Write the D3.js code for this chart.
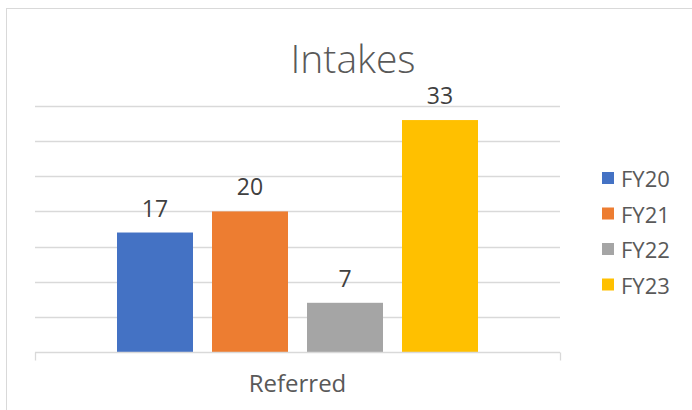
<!DOCTYPE html>
<html><head><meta charset="utf-8">
<script src="https://cdn.jsdelivr.net/npm/d3@7"></script>
<style>body{margin:0;background:#fff;}svg{display:block;font-family:"Open Sans",Lato,sans-serif;}</style>
</head><body><svg id="c" width="692" height="410"></svg>
<script>
const categories = ["Referred"];
const seriesNames = ["FY20","FY21","FY22","FY23"];
const seriesValues = [17,20,7,33];
const colors = ["#4472C4","#ED7D31","#A5A5A5","#FFC000"];
const yTicks = [0,5,10,15,20,25,30,35];

(function(){
const svg = d3.select("#c");
svg.append("rect").attr("x",6.5).attr("y",8.5).attr("width",700).attr("height",420)
  .attr("fill","#fff").attr("stroke","#d9d9d9");

const pL=35,pR=560,pT=106,pB=352;
const y = d3.scaleLinear().domain([0,35]).range([pB,pT]);
const x0 = d3.scaleBand().domain(categories).range([pL,pR]);
const x1 = d3.scaleBand().domain(seriesNames).range([x0("Referred")+82, x0("Referred")+x0.bandwidth()-82]).paddingInner(0.2);

svg.append("g").selectAll("line").data(yTicks.filter(t=>t>0)).join("line")
  .attr("x1",pL).attr("x2",pR).attr("y1",d=>Math.round(y(d))+0.5).attr("y2",d=>Math.round(y(d))+0.5)
  .attr("stroke","#d9d9d9").attr("stroke-width",1.3);

const data = seriesNames.map((s,i)=>({s,v:seriesValues[i],c:colors[i]}));
svg.append("g").selectAll("rect").data(data).join("rect")
  .attr("x",d=>x1(d.s)).attr("width",x1.bandwidth())
  .attr("y",d=>y(d.v)).attr("height",d=>y(0)-y(d.v)).attr("fill",d=>d.c);

svg.append("g").selectAll("text").data(data).join("text")
  .attr("x",d=>x1(d.s)+x1.bandwidth()/2).attr("y",d=>y(d.v)-16)
  .attr("text-anchor","middle").attr("font-size",23).attr("fill","#404040").text(d=>d.v);

const xa = svg.append("g").attr("transform",`translate(0,${Math.round(y(0))+0.5})`);
xa.append("line").attr("x1",pL).attr("x2",pR).attr("stroke","#d9d9d9").attr("stroke-width",1.3);
[pL,pR].forEach(px=>xa.append("line").attr("x1",px+0.5).attr("x2",px+0.5).attr("y1",0).attr("y2",8).attr("stroke","#d9d9d9").attr("stroke-width",1.3));
xa.selectAll("text.cat").data(categories).join("text").attr("class","cat")
  .attr("x",d=>x0(d)+x0.bandwidth()/2).attr("y",39).attr("text-anchor","middle")
  .attr("font-size",24).attr("fill","#595959").text(d=>d);

svg.append("text").attr("x",353).attr("y",73).attr("text-anchor","middle")
  .attr("font-size",39).attr("font-weight",300).attr("fill","#595959").text("Intakes");

const lg = svg.append("g");
const lgItems = lg.selectAll("g").data(data).join("g").attr("transform",(d,i)=>`translate(602,${178+i*35.5})`);
lgItems.append("rect").attr("x",0).attr("y",-6).attr("width",12).attr("height",12).attr("fill",d=>d.c);
lgItems.append("text").attr("x",19).attr("y",9).attr("font-size",22).attr("fill","#595959").text(d=>d.s);
})();
</script></body></html>
